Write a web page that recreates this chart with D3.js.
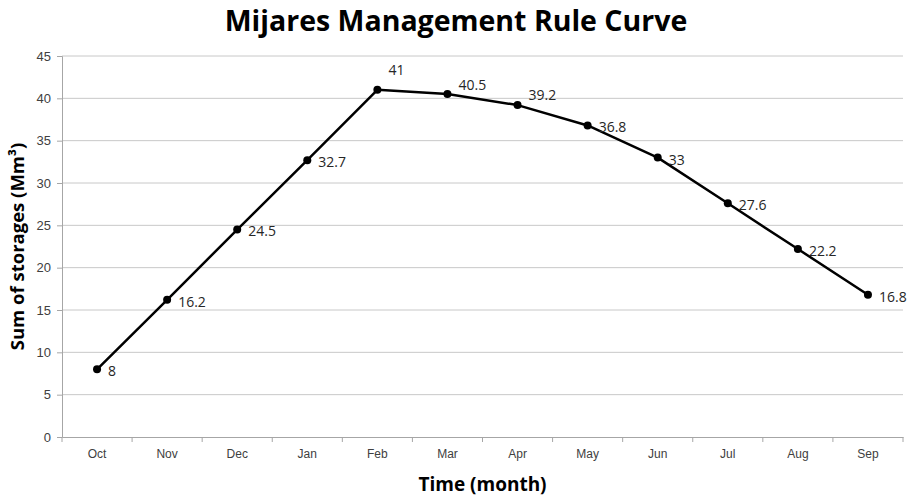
<!DOCTYPE html>
<html>
<head>
<meta charset="utf-8">
<script src="https://cdn.jsdelivr.net/npm/d3@7"></script>
<style>
  body { margin: 0; background: #fff; }
  svg { font-family: "Open Sans", "Liberation Sans", sans-serif; }
  .grid line { stroke: #c8c8c8; stroke-width: 1; }
  .axis path, .axis line { stroke: #a6a6a6; }
  .axis text { fill: #404040; font-size: 12px; }
</style>
</head>
<body>
<script>
var months = ["Oct", "Nov", "Dec", "Jan", "Feb", "Mar", "Apr", "May", "Jun", "Jul", "Aug", "Sep"];
var storage = [8, 16.2, 24.5, 32.7, 41, 40.5, 39.2, 36.8, 33, 27.6, 22.2, 16.8];
var yTicks = [0, 5, 10, 15, 20, 25, 30, 35, 40, 45];
// labels Excel pushed above the line instead of to the right
var liftedLabels = { "Feb": -22, "Mar": -11, "Apr": -12 };

var width = 915, height = 497;
var margin = { top: 56, right: 12, bottom: 60, left: 62 };

var svg = d3.select("body").append("svg")
  .attr("width", width)
  .attr("height", height);

var x = d3.scaleBand().domain(months).range([margin.left, width - margin.right]);
var y = d3.scaleLinear().domain([0, 45]).range([height - margin.bottom, margin.top]);

// gridlines
svg.append("g").attr("class", "grid")
  .selectAll("line")
  .data(yTicks.slice(1)).enter()
  .append("line")
  .attr("x1", margin.left).attr("x2", width - margin.right)
  .attr("y1", function (d) { return y(d); })
  .attr("y2", function (d) { return y(d); });

var yAxis = d3.axisLeft(y).tickValues(yTicks).tickSize(5).tickPadding(6);
svg.append("g").attr("class", "y axis")
  .attr("transform", "translate(" + margin.left + ",0)")
  .call(yAxis)
  .call(function (g) { g.selectAll("text").style("font-size", "13px"); });

var xAxis = d3.axisBottom(x).tickSize(0).tickPadding(12);
var xg = svg.append("g").attr("class", "x axis")
  .attr("transform", "translate(0," + (height - margin.bottom) + ")")
  .call(xAxis);
// tick marks sit on the category boundaries
xg.selectAll(".boundary")
  .data(d3.range(months.length + 1)).enter()
  .append("line")
  .attr("class", "boundary")
  .attr("x1", function (i) { return margin.left + i * x.step(); })
  .attr("x2", function (i) { return margin.left + i * x.step(); })
  .attr("y1", 0).attr("y2", 5)
  .attr("stroke", "#a6a6a6");

var cx = function (d, i) { return x(months[i]) + x.bandwidth() / 2; };

var line = d3.line()
  .x(function (d, i) { return cx(d, i); })
  .y(function (d) { return y(d); });

svg.append("path")
  .datum(storage)
  .attr("fill", "none")
  .attr("stroke", "#000")
  .attr("stroke-width", 2.5)
  .attr("stroke-linejoin", "round")
  .attr("d", line);

svg.selectAll(".dot")
  .data(storage).enter()
  .append("circle")
  .attr("class", "dot")
  .attr("cx", cx)
  .attr("cy", function (d) { return y(d); })
  .attr("r", 4)
  .attr("fill", "#000");

svg.selectAll(".label")
  .data(storage).enter()
  .append("text")
  .attr("class", "label")
  .attr("x", function (d, i) { return cx(d, i) + 11; })
  .attr("y", function (d, i) { return y(d) + 2 + (liftedLabels[months[i]] || 0); })
  .attr("dy", "0.35em")
  .style("font-size", "14px")
  .style("fill", "#262626")
  .text(function (d) { return d; });

svg.append("text")
  .attr("x", 456).attr("y", 31)
  .attr("text-anchor", "middle")
  .style("font-size", "28.5px")
  .style("font-weight", "bold")
  .text("Mijares Management Rule Curve");

svg.append("text")
  .attr("x", (margin.left + width - margin.right) / 2)
  .attr("y", 491)
  .attr("text-anchor", "middle")
  .style("font-size", "19px")
  .style("font-weight", "bold")
  .text("Time (month)");

svg.append("text")
  .attr("transform", "translate(24," + ((margin.top + height - margin.bottom) / 2) + ") rotate(-90)")
  .attr("text-anchor", "middle")
  .style("font-size", "18.5px")
  .style("font-weight", "bold")
  .html("Sum of storages (Mm\u00b3)");
</script>
</body>
</html>
